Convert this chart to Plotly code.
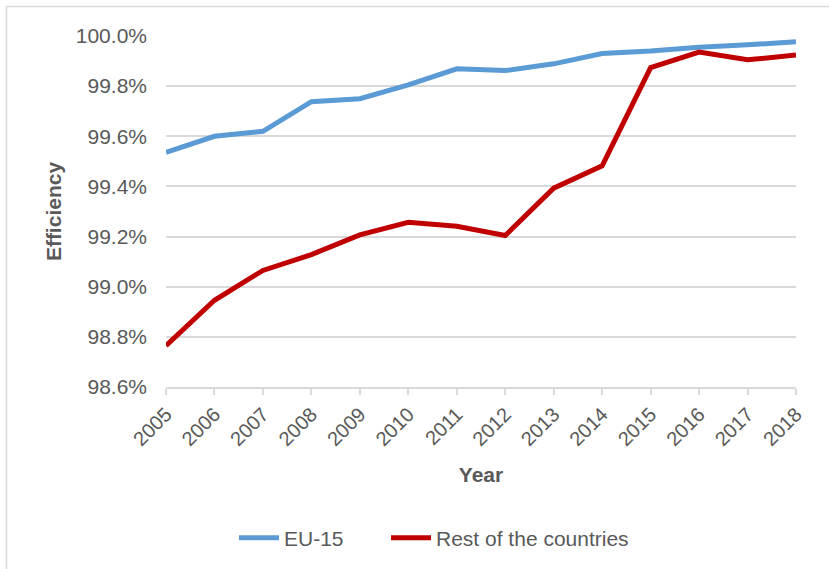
import plotly.graph_objects as go

years = list(range(2005, 2019))
eu15 = [99.536, 99.600, 99.620, 99.738, 99.750, 99.805, 99.869, 99.862,
        99.889, 99.930, 99.940, 99.955, 99.965, 99.977]
rest = [98.765, 98.946, 99.065, 99.128, 99.207, 99.257, 99.241, 99.204,
        99.393, 99.482, 99.874, 99.936, 99.905, 99.924]
ytick_vals = [98.6, 98.8, 99.0, 99.2, 99.4, 99.6, 99.8, 100.0]

FONT = "Arial, Liberation Sans, sans-serif"
GREY = "#595959"
GRID = "#D9D9D9"

fig = go.Figure()
fig.add_trace(go.Scatter(x=years, y=eu15, mode="lines", name="EU-15", legend="legend",
                         line=dict(color="#5B9BD5", width=5)))
fig.add_trace(go.Scatter(x=years, y=rest, mode="lines", name="Rest of the countries",
                         legend="legend2", line=dict(color="#C00000", width=5)))

W, H = 829, 569
L, R, T, B = 166, 33, 36, 181
pw, ph = W - L - R, H - T - B

def px(x):
    return (x - L) / pw

def py(y):
    return (H - B - y) / ph

leg_common = dict(orientation="h", xanchor="left", y=py(538), yanchor="middle",
                  font=dict(size=21, color=GREY), itemwidth=40, bgcolor="rgba(0,0,0,0)")

fig.update_layout(
    width=W, height=H,
    margin=dict(l=L, r=R, t=T, b=B),
    paper_bgcolor="white", plot_bgcolor="white",
    font=dict(family=FONT, color=GREY, size=20),
    showlegend=True,
    legend=dict(x=px(234), **leg_common),
    legend2=dict(x=px(386), **leg_common),
    xaxis=dict(range=[2005, 2018], tickmode="array", tickvals=years,
               ticktext=[str(y) for y in years], tickangle=-45,
               showgrid=False, zeroline=False, showline=True, linecolor=GRID, linewidth=1.5,
               ticks="outside", ticklen=6, tickcolor=GRID, tickwidth=1.5,
               tickfont=dict(size=20, color=GREY),
               title=dict(text="<b>Year</b>", font=dict(size=21, color=GREY), standoff=18)),
    yaxis=dict(range=[98.6, 100.0], tickmode="array", tickvals=ytick_vals,
               ticktext=[f"{v:.1f}%" for v in ytick_vals],
               showgrid=True, gridcolor=GRID, gridwidth=1.5, zeroline=False, showline=False,
               ticks="", ticklabelstandoff=18,
               tickfont=dict(size=21, color=GREY),
               title=dict(text="<b>Efficiency</b>", font=dict(size=21, color=GREY), standoff=8)),
    shapes=[dict(type="rect", xref="paper", yref="paper",
                 x0=px(6.5), x1=px(900), y0=py(640), y1=py(6.5),
                 line=dict(color=GRID, width=1.5), fillcolor="rgba(0,0,0,0)", layer="below")],
)

fig.write_html("out.html")
